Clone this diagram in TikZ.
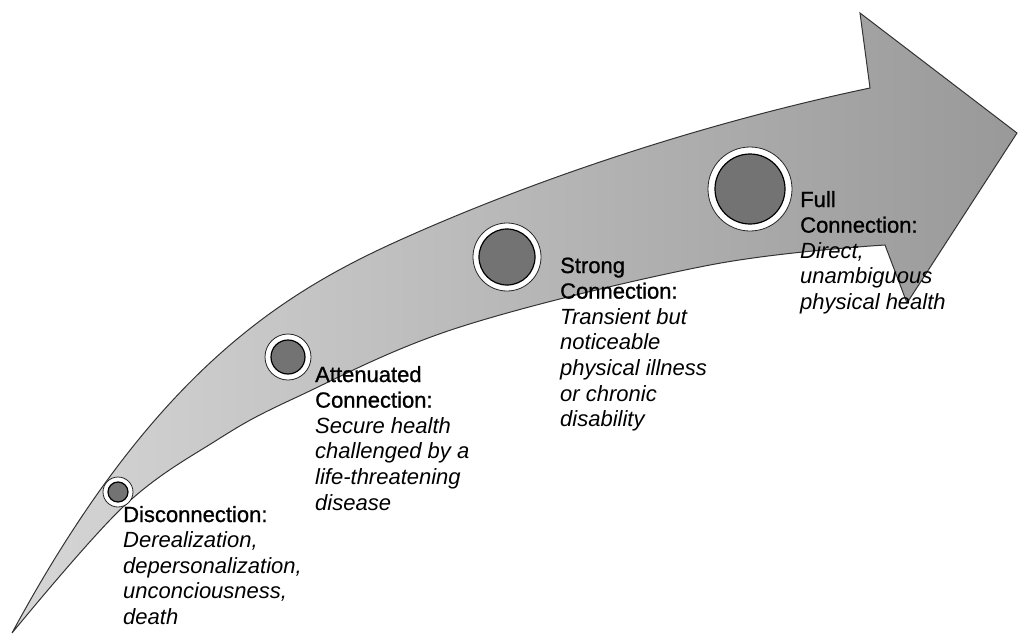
\documentclass[tikz,border=0pt]{standalone}
\usepackage{fontspec}
\setmainfont{Liberation Sans}
\newfontfamily\headfont{Liberation Sans}[BoldFont={*},BoldFeatures={FakeBold=1.0}]
\newcommand{\hd}[1]{{\headfont\bfseries #1}}
\begin{document}
\begin{tikzpicture}[x=1pt,y=-1pt,
  arrowshape/.style={draw=black!80, line width=1pt, left color=black!16, right color=black!40},
  ring/.style={circle, draw=black!85, line width=0.8pt, fill=white, inner sep=0pt},
  disc/.style={circle, draw=black, line width=1.2pt, fill=black!55, inner sep=0pt},
  lbl/.style={anchor=base west, align=left, inner sep=0pt, font=\fontsize{22}{25.6}\selectfont}
]
\useasboundingbox (0,0) rectangle (1018,638);
\path[arrowshape] (12,633) .. controls (152,374) and (280,294) .. (400,240)
  .. controls (550,172.5) and (720,119.5) .. (870,88)
  -- (860,13) -- (1017,133) -- (907,303)
  -- plot[smooth, tension=0.6] coordinates {(885,245) (710,265) (460,327) (297,397) (217,440) (123,507) (12,633)} -- cycle;

\node[ring, minimum size=30pt] (r1) at (118,492) {};
\node[disc, minimum size=20pt] (c1) at (118,492) {};
\node[ring, minimum size=46pt] (r2) at (288,357) {};
\node[disc, minimum size=34pt] (c2) at (288,357) {};
\node[ring, minimum size=68pt] (r3) at (507,257) {};
\node[disc, minimum size=56pt] (c3) at (507,257) {};
\node[ring, minimum size=84pt] (r4) at (750,189) {};
\node[disc, minimum size=70pt] (c4) at (750,189) {};

% base anchor of a multi-line node is the baseline of its last line
\node[lbl] (l1) at (123,624.4) {\hd{Disconnection:}\\\textit{Derealization,}\\\textit{depersonalization,}\\\textit{unconciousness,}\\\textit{death}};
\node[lbl] (l2) at (315,510) {\hd{Attenuated}\\\hd{Connection:}\\\textit{Secure health}\\\textit{challenged by a}\\\textit{life-threatening}\\\textit{disease}};
\node[lbl] (l3) at (560,426.6) {\hd{Strong}\\\hd{Connection:}\\\textit{Transient but}\\\textit{noticeable}\\\textit{physical illness}\\\textit{or chronic}\\\textit{disability}};
\node[lbl] (l4) at (800,309.4) {\hd{Full}\\\hd{Connection:}\\\textit{Direct,}\\\textit{unambiguous}\\\textit{physical health}};
\end{tikzpicture}
\end{document}
